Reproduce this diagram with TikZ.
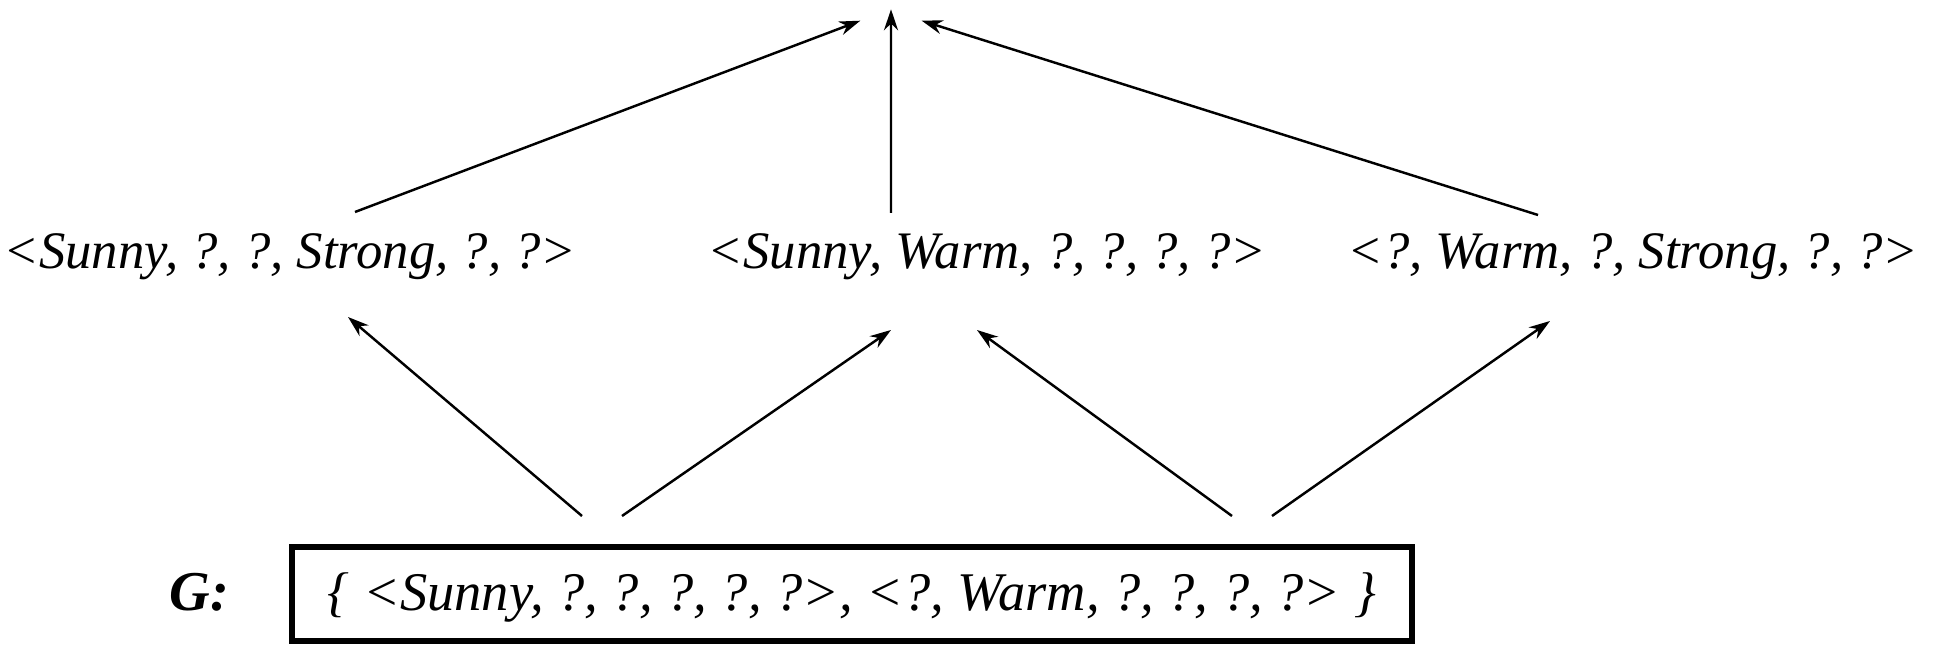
\documentclass[tikz,border=0pt]{standalone}
\usepackage{fontspec}
\setmainfont{Liberation Serif}
\usetikzlibrary{arrows.meta,calc,positioning}
\definecolor{Ink}{HTML}{000000}
\tikzset{
  hyp/.style={
    font=\fontsize{15}{18}\selectfont\itshape, text=Ink,
    inner sep=0pt, anchor=base
  },
  setbox/.style={
    draw=Ink, line width=1.6pt, inner sep=0pt, anchor=base,
    minimum width=11.2cm, text height=0.64cm, text depth=0.30cm,
    font=\fontsize{15.5}{18}\selectfont\itshape
  },
  glabel/.style={font=\fontsize{16}{18}\selectfont\bfseries\itshape, inner sep=0pt, anchor=base east},
  flow/.style={-{Stealth[length=6pt,width=4pt]}, line width=0.7pt, draw=Ink}
}

\begin{document}
\begin{tikzpicture}
    \useasboundingbox (0,0) rectangle (19.51,6.64);
    \node[setbox] (g) at (8.52,0.53) {\{ <Sunny, ?, ?, ?, ?, ?>, <?, Warm, ?, ?, ?, ?> \}};
    \node[glabel] (glab) at (2.30,0.53) {G:};
    \node[hyp] (lft) at (2.90,3.95) {<Sunny, ?, ?, Strong, ?, ?>};
    \node[hyp] (mid) at (9.87,3.95) {<Sunny, Warm, ?, ?, ?, ?>};
    \node[hyp] (rgt) at (16.33,3.95) {<?, Warm, ?, Strong, ?, ?>};
    \node[inner sep=0pt, minimum width=0.6cm, minimum height=0.1cm] (top) at (8.91,6.49) {};
    % specific to general
    \draw[flow] ($(g.base)+(-2.70,0.95)$) -- ($(lft.base)+(0.58,-0.48)$);
    \draw[flow] ($(g.base)+(-2.30,0.95)$) -- ($(mid.base)+(-0.96,-0.61)$);
    \draw[flow] ($(g.base)+(3.80,0.95)$) -- ($(mid.base)+(-0.10,-0.61)$);
    \draw[flow] ($(g.base)+(4.20,0.95)$) -- ($(rgt.base)+(-0.83,-0.52)$);
    \draw[flow] ($(lft.base)+(0.65,0.57)$) -- (top.south west);
    \draw[flow] ($(mid.base)+(-0.96,0.56)$) -- (top.north);
    \draw[flow] ($(rgt.base)+(-0.95,0.54)$) -- (top.south east);
  \end{tikzpicture}
\end{document}
